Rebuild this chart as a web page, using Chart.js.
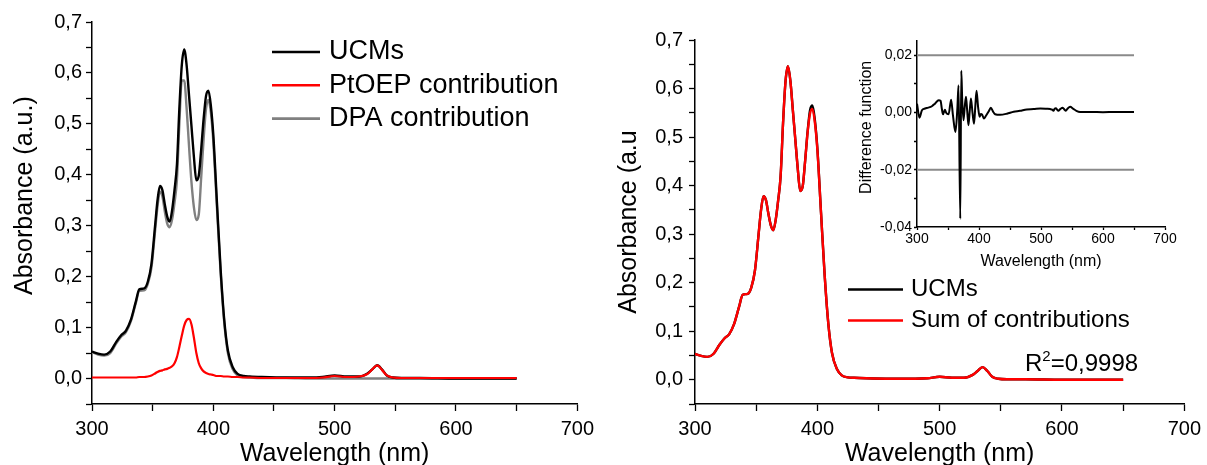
<!DOCTYPE html>
<html>
<head>
<meta charset="utf-8">
<script src="https://cdn.jsdelivr.net/npm/chart.js@4.4.0/dist/chart.umd.min.js"></script>
<style>
  body { margin: 0; background: #fff; }
  canvas { position: absolute; }
  #left { left: 0; top: 0; }
  #right { left: 600px; top: 0; }
  #inset { left: 840px; top: 25px; }
</style>
</head>
<body>
<canvas id="left" width="600" height="465"></canvas>
<canvas id="right" width="607" height="465"></canvas>
<canvas id="inset" width="350" height="260"></canvas>
<script>
//==================================================Data
var wavelength = [300, 305, 310, 315, 320, 324, 328, 332, 336, 339, 343, 346, 349, 352, 354,
    356, 358, 360, 362, 364, 366, 368, 370, 372, 374, 376, 378, 380, 382, 384, 386, 388, 390,
    392, 394, 396, 398, 400, 403, 406, 409, 412, 416, 420, 425, 430, 440, 460, 480, 490, 500,
    510, 520, 527, 531, 535, 539, 543, 548, 555, 570, 600, 650];

var ucmsAbs = [.053, .049, .047, .053, .072, .085, .094, .115, .150, .175, .177, .190, .225, .300, .350,
    .378, .370, .342, .318, .308, .330, .370, .420, .530, .615, .646, .615, .555, .495, .435, .389, .398, .450,
    .510, .555, .565, .535, .478, .345, .215, .115, .055, .022, .009, .005, .004, .003, .002, .002, .003, .006,
    .004, .004, .010, .018, .026, .018, .006, .002, .001, .001, .000, .000];

var ptoepAbs = [.002, .002, .002, .002, .002, .002, .002, .002, .002, .003, .003, .004, .006, .010, .013,
    .015, .016, .018, .019, .021, .024, .030, .042, .062, .084, .104, .115, .117, .106, .080, .050, .030, .020,
    .014, .011, .009, .008, .007, .005, .005, .004, .004, .003, .003, .002, .002, .001, .001, .001, .002, .005,
    .003, .004, .009, .018, .026, .017, .006, .002, .001, .001, .001, .001];

var dpaAbs = [.052, .047, .045, .050, .069, .082, .091, .112, .147, .172, .173, .186, .218, .290, .338,
    .367, .358, .328, .304, .297, .312, .345, .390, .500, .585, .585, .530, .455, .385, .336, .311, .322, .395,
    .470, .530, .547, .522, .465, .335, .208, .110, .050, .018, .006, .003, .002, .001, .001, .000, .000, .000,
    .000, .000, .000, .000, .000, .000, .000, .000, .000, .000, .000, .000];

var sumAbs = [.053, .049, .047, .053, .072, .085, .094, .115, .150, .175, .177, .190, .225, .300, .350,
    .378, .370, .342, .318, .308, .330, .370, .420, .530, .615, .646, .615, .555, .495, .435, .389, .398, .450,
    .508, .548, .558, .530, .475, .345, .215, .115, .055, .022, .009, .005, .004, .003, .002, .002, .003, .006,
    .004, .004, .010, .018, .026, .018, .006, .002, .001, .001, .000, .000];

var diffWavelength = [300, 304, 308, 313, 318, 324, 329, 335, 338, 340, 342, 345, 347, 351, 355, 358, 362,
    365, 367, 369.8, 371.4, 373, 375, 377, 379, 381, 383, 385, 387, 389.5, 392, 394, 396, 398.5, 401, 403,
    405, 408, 411, 416, 419, 423, 426, 434, 445, 456, 466, 477, 488, 499, 509, 515, 518, 520, 522, 524, 526,
    528, 531, 535, 538, 540, 543, 547, 552, 557, 563, 580, 600, 620, 650];

var diffValues = [.0031, -.0018, .0008, .0014, .0017, .0022, .0031, .0043, .0041, .0014, -.0006, .0010,
    -.0001, -.0006, .0045, -.0010, -.0068, .0010, .0095, -.0371, .0146, .0040, -.0027, .0020, .0055, .0005,
    -.0044, .0005, .0049, .0000, -.0039, .0020, .0076, .0020, -.0015, -.0005, -.0007, -.0021, -.0012, .0005,
    .0017, .0002, -.0006, -.0008, -.0004, .0003, .0006, .0011, .0012, .0014, .0013, .0012, .0010, .0006,
    .0013, .0015, .0010, .0006, .0012, .0017, .0010, .0006, .0014, .0020, .0013, .0006, .0002, .0002, .0001,
    .0002, .0002];

var limitLevels = [0.02, -0.02];
var limitRange = [300, 650];
var r2Value = '0,9998';

//==================================================Helpers
var FONT = '"Liberation Sans", Arial, sans-serif';
Chart.defaults.font.family = FONT;
Chart.defaults.color = '#000';

function pts(xs, ys) {
    return xs.map(function(x, i) { return {x: x, y: ys[i]}; });
}

function tickList(from, to, step) {
    var out = [];
    for (var v = from; v <= to + step / 2; v += step) out.push(+v.toFixed(4));
    return out;
}

// one axis: minor ticks every `minor`, labels only every `major`
function axis(o) {
    return {
        type: 'linear', min: o.min, max: o.max,
        afterBuildTicks: function(s) {
            s.ticks = tickList(o.min, o.max, o.minor).map(function(v) { return {value: v}; });
        },
        afterFit: function(s) {
            if (s.isHorizontal()) s.height = o.size; else s.width = o.size;
        },
        grid: {drawOnChartArea: false, color: '#000', tickLength: o.tickLen, tickWidth: 1.3},
        border: {color: '#000', width: 1.5},
        ticks: {
            autoSkip: false, maxRotation: 0, padding: o.pad, font: {size: o.font},
            callback: function(v) {
                var r = v / o.major;
                if (Math.abs(r - Math.round(r)) > 1e-6) return '';
                return o.dec === undefined ? String(Math.round(v)) : v.toFixed(o.dec).replace('.', ',');
            }
        },
        title: {display: true, text: o.title, font: {size: o.titleSize, lineHeight: 1.2}, padding: o.titlePad}
    };
}

function line(label, data, color, width, order) {
    return {label: label, data: data, borderColor: color, borderWidth: width, pointRadius: 0,
        cubicInterpolationMode: 'monotone', fill: false, order: order};
}

// legend drawn as line sample + text, taken from dataset labels/colours
var keyPlugin = {
    id: 'key',
    afterDraw: function(chart, args, o) {
        if (o.x === undefined) return;
        var ctx = chart.ctx;
        ctx.save();
        ctx.font = o.size + 'px ' + FONT;
        ctx.textBaseline = 'middle';
        ctx.fillStyle = '#000';
        chart.data.datasets.forEach(function(ds, i) {
            var y = o.y + i * o.gap;
            ctx.strokeStyle = ds.borderColor;
            ctx.lineWidth = 2.6;
            ctx.beginPath();
            ctx.moveTo(o.x, y);
            ctx.lineTo(o.x + o.len, y);
            ctx.stroke();
            ctx.fillText(ds.label, o.x + o.len + o.space, y);
        });
        if (o.r2) {
            var x = o.r2.x, by = o.r2.y;
            ctx.textBaseline = 'alphabetic';
            ctx.fillText('R', x, by);
            x += ctx.measureText('R').width;
            ctx.font = '15px ' + FONT;
            ctx.fillText('2', x, by - 10);
            x += ctx.measureText('2').width;
            ctx.font = o.size + 'px ' + FONT;
            ctx.fillText('=' + r2Value, x, by);
        }
        ctx.restore();
    }
};

var common = {responsive: false, animation: false, events: [], plugins: {legend: {display: false}, tooltip: {enabled: false}}};

//==================================================Left panel: UCMs and contributions
new Chart(document.getElementById('left'), {
    type: 'line',
    data: {
        datasets: [
            line('UCMs', pts(wavelength, ucmsAbs), '#000000', 2.4, 1),
            line('PtOEP contribution', pts(wavelength, ptoepAbs), '#ff0000', 2.2, 0),
            line('DPA contribution', pts(wavelength, dpaAbs), '#808080', 2.4, 2)
        ]
    },
    options: Object.assign({}, common, {
        layout: {padding: {left: 0, top: 22, right: 21, bottom: 0}},
        plugins: Object.assign({}, common.plugins, {
            key: {x: 272, y: 52, gap: 33.3, len: 48, space: 9, size: 27}
        }),
        scales: {
            x: axis({min: 300, max: 700, minor: 50, major: 100, size: 61, tickLen: 7, pad: 6, font: 20,
                title: 'Wavelength (nm)', titleSize: 25, titlePad: {top: 0, bottom: -4}}),
            y: axis({min: -0.05, max: 0.7, minor: 0.05, major: 0.1, dec: 1, size: 92, tickLen: 6, pad: 4, font: 20,
                title: '     Absorbance (a.u.)', titleSize: 25, titlePad: {top: 10, bottom: 0}})
        }
    }),
    plugins: [keyPlugin]
});

//==================================================Right panel: UCMs vs sum of contributions
new Chart(document.getElementById('right'), {
    type: 'line',
    data: {
        datasets: [
            line('UCMs', pts(wavelength, ucmsAbs), '#000000', 2.4, 1),
            line('Sum of contributions', pts(wavelength, sumAbs), '#ff0000', 2.4, 0)
        ]
    },
    options: Object.assign({}, common, {
        layout: {padding: {left: 0, top: 40, right: 19, bottom: 0}},
        plugins: Object.assign({}, common.plugins, {
            key: {x: 248, y: 289.5, gap: 31, len: 55, space: 8, size: 24, r2: {x: 425, y: 371}}
        }),
        scales: {
            x: axis({min: 300, max: 700, minor: 50, major: 100, size: 61, tickLen: 7, pad: 6, font: 20,
                title: 'Wavelength (nm)', titleSize: 25, titlePad: {top: 0, bottom: -4}}),
            y: axis({min: -0.05, max: 0.7, minor: 0.05, major: 0.1, dec: 1, size: 95, tickLen: 6, pad: 6, font: 20,
                title: 'Absorbance (a.u', titleSize: 25, titlePad: {top: 14, bottom: 0}})
        }
    }),
    plugins: [keyPlugin]
});

//==================================================Inset: difference function
var limitSets = limitLevels.map(function(lv) {
    return {data: pts(limitRange, [lv, lv]), borderColor: '#8a8a8a', borderWidth: 2, pointRadius: 0, order: 1};
});

new Chart(document.getElementById('inset'), {
    type: 'line',
    data: {
        datasets: [{data: pts(diffWavelength, diffValues), borderColor: '#000', borderWidth: 2, pointRadius: 0,
            cubicInterpolationMode: 'monotone', order: 0}].concat(limitSets)
    },
    options: Object.assign({}, common, {
        layout: {padding: {left: 0, top: 16, right: 25, bottom: 0}},
        scales: {
            x: axis({min: 300, max: 700, minor: 50, major: 100, size: 58, tickLen: 3, pad: 1, font: 14,
                title: 'Wavelength (nm)', titleSize: 16, titlePad: {top: 0, bottom: 14}}),
            y: axis({min: -0.04, max: 0.025, minor: 0.01, major: 0.02, dec: 2, size: 77, tickLen: 3, pad: 2, font: 14,
                title: '   Difference function', titleSize: 16, titlePad: {top: 17, bottom: 0}})
        }
    })
});
</script>
</body>
</html>
